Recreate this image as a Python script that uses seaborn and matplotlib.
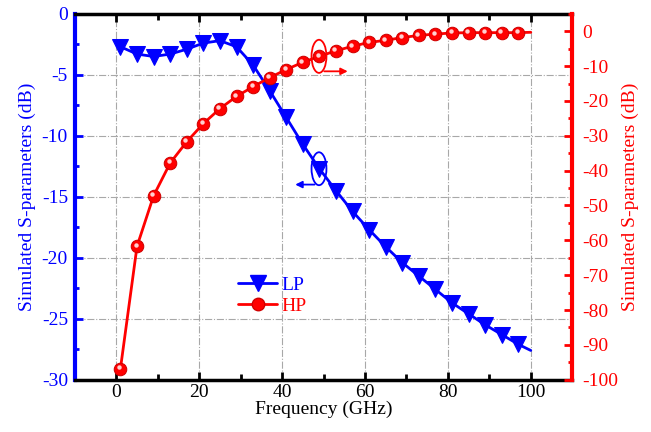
import numpy as np
import pandas as pd
import seaborn as sns
import matplotlib.pyplot as plt
from matplotlib.patches import Ellipse
from matplotlib.ticker import MultipleLocator
from matplotlib.lines import Line2D
import matplotlib.transforms as mtrans

sns.set_style('ticks')
plt.rcParams['font.family'] = ['Liberation Serif', 'DejaVu Serif']
plt.rcParams['axes.unicode_minus'] = False

# data (markers every 4 GHz, line ends at 100 GHz)
freq = [1, 5, 9, 13, 17, 21, 25, 29, 33, 37, 41, 45, 49, 53, 57, 61, 65, 69, 73,
        77, 81, 85, 89, 93, 97, 100]
lp = [-2.7, -3.3, -3.5, -3.3, -2.9, -2.4, -2.2, -2.7, -4.2, -6.3, -8.5, -10.7,
      -12.7, -14.5, -16.2, -17.7, -19.1, -20.4, -21.5, -22.6, -23.7, -24.6,
      -25.5, -26.3, -27.1, -27.6]
hp = [-96.8, -61.7, -47.2, -37.8, -31.7, -26.5, -22.2, -18.7, -15.9, -13.3,
      -11.0, -8.9, -7.2, -5.6, -4.3, -3.2, -2.6, -1.8, -1.2, -0.8, -0.5, -0.4,
      -0.4, -0.4, -0.4, -0.3]

df = pd.DataFrame({'Frequency': freq, 'LP': lp, 'HP': hp})
marks = list(range(len(freq) - 1))

fig = plt.figure(figsize=(6.51, 4.32), dpi=100)
ax = fig.add_axes([0.115, 0.121, 0.764, 0.847])
ax2 = ax.twinx()

sns.lineplot(data=df, x='Frequency', y='LP', ax=ax, color='blue', linewidth=2,
             marker='v', markersize=11, markeredgecolor='blue', markevery=marks,
             zorder=3)
sns.lineplot(data=df, x='Frequency', y='HP', ax=ax2, color='red', linewidth=2,
             marker='o', markersize=9, markeredgecolor='#d00000', markevery=marks,
             zorder=3)
# little highlight on the balls
hl = mtrans.offset_copy(ax2.transData, fig=fig, x=-1.5, y=1.5, units='dots')
ax2.plot(df['Frequency'][:-1], df['HP'][:-1], 'o', markersize=3.2,
         color='#ffd0d0', markeredgewidth=0, transform=hl, zorder=4)

ax.set_xlim(-10, 110)
ax.set_ylim(-30, 0)
ax2.set_ylim(-100, 5)

ax.xaxis.set_major_locator(MultipleLocator(20))
ax.xaxis.set_minor_locator(MultipleLocator(10))
ax.yaxis.set_major_locator(MultipleLocator(5))
ax.yaxis.set_minor_locator(MultipleLocator(2.5))
ax2.yaxis.set_major_locator(MultipleLocator(10))
ax2.yaxis.set_minor_locator(MultipleLocator(5))
ax.set_xticks(range(0, 101, 20))

ax.grid(True, which='major', color='#a8a8a8', linestyle='-.', linewidth=0.8)
ax.set_axisbelow(True)

for s in ['top', 'bottom']:
    ax.spines[s].set_linewidth(2.5)
    ax.spines[s].set_color('black')
ax.spines['left'].set_linewidth(3)
ax.spines['left'].set_color('blue')
ax2.spines['right'].set_linewidth(3)
ax2.spines['right'].set_color('red')
ax2.spines['left'].set_visible(False)
ax2.spines['top'].set_visible(False)
ax2.spines['bottom'].set_visible(False)
ax.spines['right'].set_visible(False)

ax.tick_params(axis='x', which='both', direction='in', top=True, width=2,
               labelsize=14, colors='black', pad=3)
ax.tick_params(axis='x', which='major', length=6)
ax.tick_params(axis='x', which='minor', length=4)
ax.tick_params(axis='y', which='both', direction='in', width=2, color='blue',
               labelcolor='blue', labelsize=14, pad=5)
ax.tick_params(axis='y', which='major', length=6)
ax.tick_params(axis='y', which='minor', length=3)
ax2.tick_params(axis='y', which='both', direction='in', width=2, color='red',
                labelcolor='red', labelsize=14, pad=7)
ax2.tick_params(axis='y', which='major', length=6)
ax2.tick_params(axis='y', which='minor', length=3)

ax.set_xlabel('Frequency (GHz)', fontsize=14, color='black', labelpad=0)
ax.set_ylabel('Simulated S-parameters (dB)', fontsize=14, color='blue', labelpad=4)
ax2.set_ylabel('Simulated S-parameters (dB)', fontsize=14, color='red', labelpad=3)

# ellipses with arrows showing which axis each curve belongs to
ax2.add_patch(Ellipse((48.9, -7.2), 3.6, 9.5, fill=False, edgecolor='red', lw=1.3, zorder=5))
ax2.annotate('', xy=(56.5, -11.5), xytext=(49.5, -11.5),
             arrowprops=dict(arrowstyle='-|>', color='red', lw=1.3, mutation_scale=10))
ax.add_patch(Ellipse((48.9, -12.7), 3.6, 2.7, fill=False, edgecolor='blue', lw=1.3, zorder=5))
ax.annotate('', xy=(42.5, -14.0), xytext=(48.5, -14.0),
            arrowprops=dict(arrowstyle='-|>', color='blue', lw=1.3, mutation_scale=10))

handles = [Line2D([], [], color='blue', lw=2, marker='v', markersize=11),
           Line2D([], [], color='red', lw=2, marker='o', markersize=9,
                  markeredgecolor='#d00000')]
leg = ax.legend(handles, ['LP', 'HP'], loc='upper left',
                bbox_to_anchor=(0.293, 0.33), frameon=False, fontsize=14,
                handlelength=2.0, handletextpad=0.25, labelspacing=0.15,
                labelcolor=['blue', 'red'])

fig.savefig('out.png', dpi=100)
